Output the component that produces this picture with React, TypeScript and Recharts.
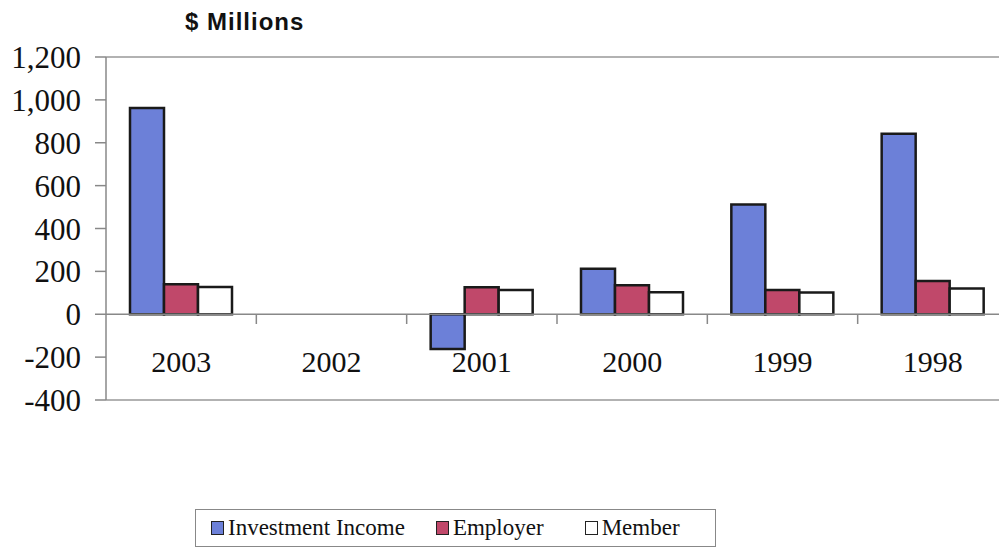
import React from 'react';
import { BarChart, Bar, XAxis, YAxis, ReferenceLine } from 'recharts';

const years = ['2003', '2002', '2001', '2000', '1999', '1998'];
const investmentIncome = [962, 0, -162, 212, 512, 842];
const employer = [140, 0, 126, 135, 113, 155];
const member = [127, 0, 113, 103, 102, 120];
const yTicks = [-400, -200, 0, 200, 400, 600, 800, 1000, 1200];

const series = [
  { key: 'investment', name: 'Investment Income', color: '#6C80D8' },
  { key: 'employer', name: 'Employer', color: '#C0486A' },
  { key: 'member', name: 'Member', color: '#FFFFFF' },
];

const data = years.map((year, i) => ({
  year,
  investment: investmentIncome[i],
  employer: employer[i],
  member: member[i],
}));

const serif = '"Liberation Serif", "Times New Roman", serif';

const YearTick = (props: any) => {
  const { x, y, payload, index } = props;
  const half = payload?.offset ?? 75;
  return (
    <g>
      {index > 0 && (
        <line x1={x - half} x2={x - half} y1={y - 86} y2={y - 76} stroke="#888" strokeWidth={1.5} />
      )}
      <text x={x} y={y - 28} textAnchor="middle" fontFamily={serif} fontSize={30} fill="#111">
        {payload.value}
      </text>
    </g>
  );
};

export default function App() {
  return (
    <div
      style={{
        position: 'fixed',
        left: 0,
        top: 0,
        width: 999,
        height: 556,
        overflow: 'hidden',
        background: '#fff',
      }}
    >
      <div
        style={{
          position: 'absolute',
          left: 185,
          top: 8,
          fontFamily: '"Liberation Sans", Arial, sans-serif',
          fontWeight: 'bold',
          fontSize: 24,
          letterSpacing: 1,
          color: '#111',
        }}
      >
        $ Millions
      </div>

      <BarChart
        width={1010}
        height={556}
        data={data}
        margin={{ top: 57, right: 2, bottom: 126, left: 0 }}
        barSize={34}
        barGap={0}
      >
        <ReferenceLine y={1200} stroke="#999" strokeWidth={1.5} />
        <ReferenceLine y={-400} stroke="#999" strokeWidth={1.5} />
        <XAxis
          dataKey="year"
          axisLine={false}
          tickLine={false}
          tickSize={0}
          tickMargin={0}
          tick={<YearTick />}
          interval={0}
        />
        <YAxis
          domain={[-400, 1200]}
          ticks={yTicks}
          width={106}
          interval={0}
          axisLine={{ stroke: '#888', strokeWidth: 1.5 }}
          tickLine={{ stroke: '#888', strokeWidth: 1.5 }}
          tickSize={11}
          tickMargin={14}
          tickFormatter={(v: number) => v.toLocaleString('en-US')}
          tick={{ fontFamily: serif, fontSize: 31, fill: '#111' }}
        />
        <ReferenceLine y={0} stroke="#888" strokeWidth={1.5} />
        {series.map((s) => (
          <Bar
            key={s.key}
            dataKey={s.key}
            name={s.name}
            fill={s.color}
            stroke="#1a1a1a"
            strokeWidth={2.5}
            isAnimationActive={false}
          />
        ))}
      </BarChart>

      <div
        style={{
          position: 'absolute',
          left: 195,
          top: 509,
          width: 521,
          height: 38,
          border: '1px solid #888',
          boxSizing: 'border-box',
          display: 'flex',
          alignItems: 'center',
          fontFamily: serif,
          fontSize: 23,
          color: '#111',
        }}
      >
        {series.map((s, i) => (
          <div
            key={s.key}
            style={{
              display: 'flex',
              alignItems: 'center',
              marginLeft: i === 0 ? 15 : i === 1 ? 31 : 41,
            }}
          >
            <span
              style={{
                display: 'inline-block',
                width: 11,
                height: 12,
                background: s.color,
                border: '1.5px solid #222',
                marginRight: 4,
              }}
            />
            <span>{s.name}</span>
          </div>
        ))}
      </div>
    </div>
  );
}
